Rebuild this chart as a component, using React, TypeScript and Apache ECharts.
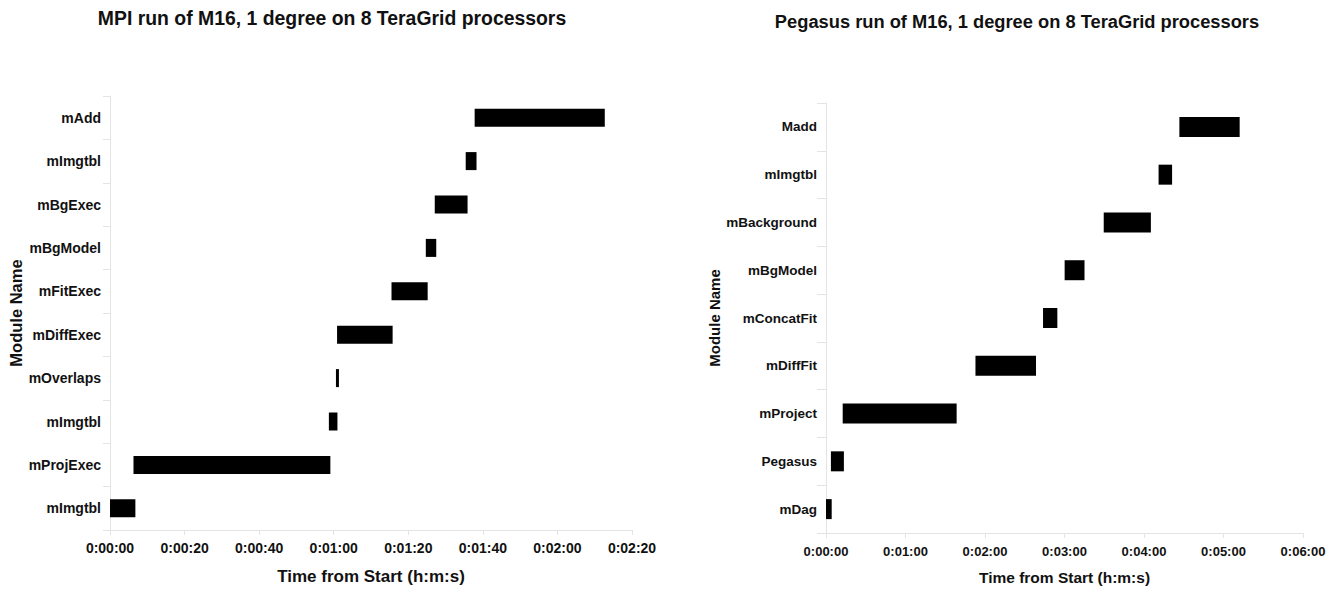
import React, { useEffect, useRef } from "react";
import * as echarts from "echarts";

const mpiTitle = "MPI run of M16, 1 degree on 8 TeraGrid processors";
const pegTitle = "Pegasus run of M16, 1 degree on 8 TeraGrid processors";

// bottom -> top
const mpiModules = ["mImgtbl", "mProjExec", "mImgtbl", "mOverlaps", "mDiffExec", "mFitExec", "mBgModel", "mBgExec", "mImgtbl", "mAdd"];
const mpiStart = [0, 6.3, 58.7, 60.6, 60.9, 75.5, 84.7, 87.1, 95.4, 97.8];
const mpiEnd = [6.8, 59.1, 61.0, 61.4, 75.8, 85.2, 87.5, 95.9, 98.3, 132.7];

const pegModules = ["mDag", "Pegasus", "mProject", "mDiffFit", "mConcatFit", "mBgModel", "mBackground", "mImgtbl", "Madd"];
const pegStart = [0, 3.7, 12.6, 112.8, 163.8, 180.1, 209.6, 251.0, 266.7];
const pegEnd = [4.3, 13.5, 98.6, 158.5, 174.6, 195.1, 245.2, 261.2, 312.2];

const mpiTicks = { min: 0, max: 140, interval: 20 };
const pegTicks = { min: 0, max: 360, interval: 60 };

const FONT = "'Liberation Sans', Arial, Helvetica, sans-serif";
const AXIS_GRAY = "#e4e4e4";

function hms(v: number) {
  const t = Math.round(v);
  const h = Math.floor(t / 3600);
  const m = Math.floor((t % 3600) / 60);
  const s = t % 60;
  return `${h}:${String(m).padStart(2, "0")}:${String(s).padStart(2, "0")}`;
}

function makeRender(barH: number) {
  return (params: any, api: any) => {
    const cat = api.value(0);
    const p0 = api.coord([api.value(1), cat]);
    const p1 = api.coord([api.value(2), cat]);
    return {
      type: "rect",
      shape: { x: p0[0], y: p0[1] - barH / 2, width: Math.max(p1[0] - p0[0], 1), height: barH },
      style: { fill: "#000" },
    };
  };
}

export default function App() {
  const ref = useRef<HTMLDivElement>(null);
  useEffect(() => {
    document.body.style.margin = "0";
    if (!ref.current) return;
    const chart = echarts.init(ref.current, undefined, { renderer: "svg" });
    const mpiData = mpiModules.map((_, i) => [i, mpiStart[i], mpiEnd[i]]);
    const pegData = pegModules.map((_, i) => [i, pegStart[i], pegEnd[i]]);

    const xAxisCommon = (fs: number, nameFs: number, gap: number, margin: number) => ({
      type: "value",
      name: "Time from Start (h:m:s)",
      nameLocation: "middle",
      nameGap: gap,
      nameTextStyle: { fontFamily: FONT, fontWeight: "bold", fontSize: nameFs, color: "#111" },
      splitLine: { show: false },
      axisLine: { show: true, lineStyle: { color: AXIS_GRAY, width: 1 } },
      axisTick: { show: true, length: 5, lineStyle: { color: AXIS_GRAY } },
      axisLabel: {
        formatter: (v: number) => hms(v),
        fontFamily: FONT,
        fontWeight: "bold",
        fontSize: fs,
        color: "#111",
        margin,
        showMinLabel: true,
        showMaxLabel: true,
      },
    });
    const yAxisCommon = (data: string[], fs: number, nameFs: number, gap: number, tickLen: number) => ({
      type: "category",
      data,
      name: "Module Name",
      nameLocation: "middle",
      nameGap: gap,
      nameTextStyle: { fontFamily: FONT, fontWeight: "bold", fontSize: nameFs, color: "#111" },
      axisLine: { show: true, lineStyle: { color: AXIS_GRAY, width: 1 } },
      axisTick: { show: true, length: tickLen, lineStyle: { color: AXIS_GRAY } },
      splitLine: { show: false },
      axisLabel: { interval: 0, fontFamily: FONT, fontWeight: "bold", fontSize: fs, color: "#111", margin: 9 },
    });

    chart.setOption({
      animation: false,
      backgroundColor: "#fff",
      graphic: [
        {
          type: "text",
          x: 332,
          y: 18,
          style: { text: mpiTitle, font: `bold 19.4px ${FONT}`, fill: "#111", textAlign: "center", textVerticalAlign: "middle" },
        },
        {
          type: "text",
          x: 1017,
          y: 21,
          style: { text: pegTitle, font: `bold 18.3px ${FONT}`, fill: "#111", textAlign: "center", textVerticalAlign: "middle" },
        },
      ],
      grid: [
        { left: 110, top: 96, width: 522, height: 435, containLabel: false },
        { left: 826, top: 103, width: 477, height: 434, containLabel: false },
      ],
      xAxis: [
        { ...xAxisCommon(14, 17, 38, 11), gridIndex: 0, ...mpiTicks },
        { ...xAxisCommon(13, 15.5, 36, 12), gridIndex: 1, ...pegTicks },
      ],
      yAxis: [
        { ...yAxisCommon(mpiModules, 14, 16.5, 84, 7), gridIndex: 0 },
        { ...yAxisCommon(pegModules, 13.5, 15, 100, 9), gridIndex: 1 },
      ],
      series: [
        {
          type: "custom",
          xAxisIndex: 0,
          yAxisIndex: 0,
          renderItem: makeRender(18),
          encode: { x: [1, 2], y: 0 },
          data: mpiData,
        },
        {
          type: "custom",
          xAxisIndex: 1,
          yAxisIndex: 1,
          renderItem: makeRender(20),
          encode: { x: [1, 2], y: 0 },
          data: pegData,
        },
      ],
    });
    return () => chart.dispose();
  }, []);
  return <div ref={ref} style={{ width: 1338, height: 590 }} />;
}
